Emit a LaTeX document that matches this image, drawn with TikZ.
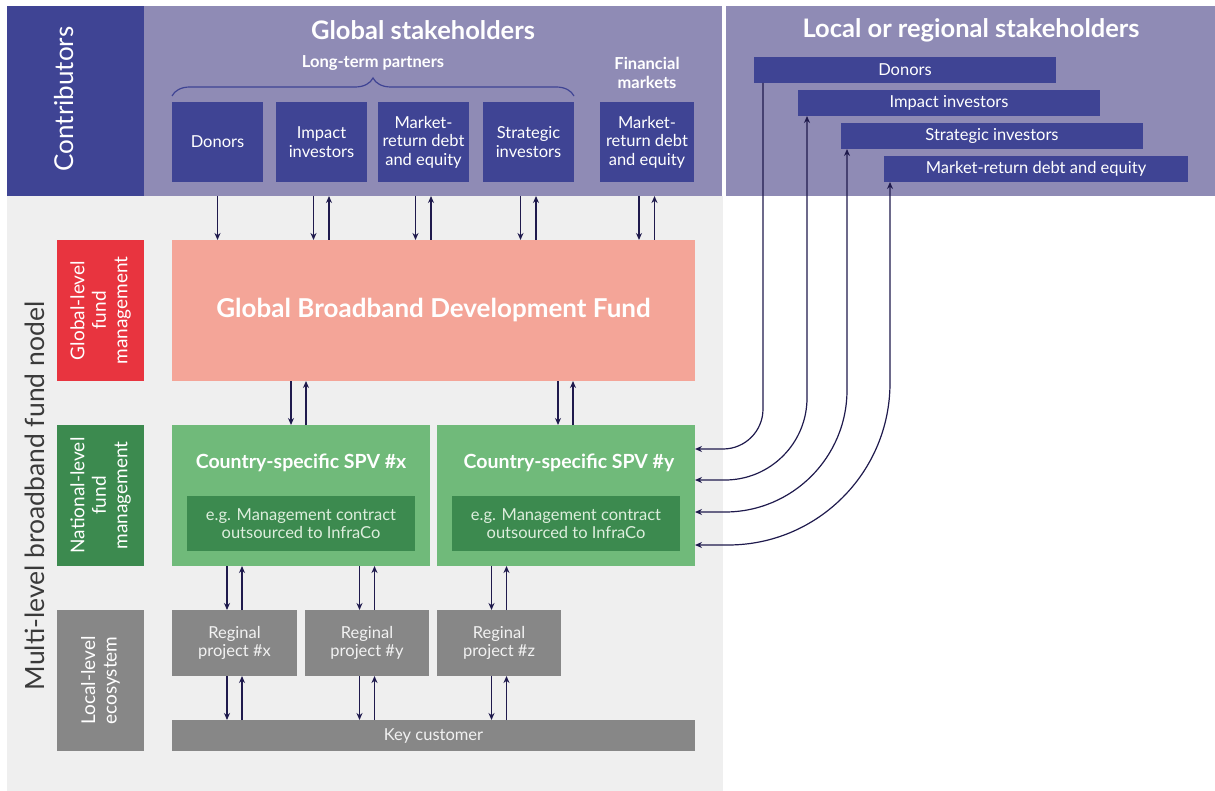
\documentclass[tikz,border=0pt]{standalone}
\usepackage{fontspec}
\setmainfont{Lato}
\usetikzlibrary{arrows.meta,decorations.pathreplacing,calc}

\definecolor{navyblue}{HTML}{3F4494}
\definecolor{lilac}{HTML}{8F8BB5}
\definecolor{paleg}{HTML}{EFEFEF}
\definecolor{fundred}{HTML}{E8343F}
\definecolor{salmon}{HTML}{F4A598}
\definecolor{lgreen}{HTML}{70BA7A}
\definecolor{dgreen}{HTML}{3C8A4F}
\definecolor{midgray}{HTML}{878787}
\definecolor{arrowcol}{HTML}{1F1A4D}
\definecolor{darktext}{HTML}{3A3A3A}
\definecolor{softgreen}{HTML}{DDEEDD}
\definecolor{softgray}{HTML}{F2F2F2}

\newcommand{\fsz}[2]{\fontsize{#1}{#2}\selectfont}

\tikzset{
  every node/.style={inner sep=0pt, outer sep=0pt},
  blk/.style={anchor=north west, align=center, text=white},
  sz/.style 2 args={minimum width=#1pt, minimum height=#2pt},
  txt/.style={font=\fsz{16.5}{18.5}},
  arr/.style={draw=arrowcol, line width=1.2pt, -{Stealth[length=7pt,width=6pt]}},
  both/.style={draw=arrowcol, line width=1.2pt, {Stealth[length=7pt,width=6pt]}-{Stealth[length=7pt,width=6pt]}},
}

\begin{document}
\begin{tikzpicture}[x=1pt,y=-1pt]
\useasboundingbox (0,0) rectangle (1215,791);

    % Background panels
    \node[blk, fill=paleg, sz={716}{595}] (base) at (7,196) {};
    \node[blk, fill=navyblue, sz={137}{190}] (contrib) at (7,6) {};
    \node[blk, fill=lilac, sz={578}{190}] (glob) at (144,6) {};
    \node[blk, fill=lilac, sz={489}{190}] (loc) at (726,6) {};
    \node[rotate=90, text=white, font=\fsz{26}{30}] (contribtxt) at (64,99) {Contributors};
    \node[rotate=90, text=darktext, font=\fsz{26.5}{30}] (multitxt) at (35,496) {Multi-level broadband fund nodel};

    % Global stakeholders
    \node[text=white, font=\fsz{25.5}{30}\bfseries] (globtitle) at (423,30) {Global stakeholders};
    \node[text=white, font=\fsz{16.5}{19}\bfseries] (ltp) at (373,63) {Long-term partners};
    \node[text=white, align=center, font=\fsz{16.5}{19}\bfseries] (finm) at (647,73) {Financial\\markets};
    \draw[navyblue, line width=1.2pt, decorate, decoration={brace, amplitude=18pt}] (172,96) -- (574,96);

    \node[blk, txt, fill=navyblue, sz={91}{80}] (gdon) at (172,102) {Donors};
    \node[blk, txt, fill=navyblue, sz={91}{80}] (gimp) at (276,102) {Impact\\investors};
    \node[blk, txt, fill=navyblue, sz={91}{80}] (gmkt) at (378,102) {Market-\\return debt\\and equity};
    \node[blk, txt, fill=navyblue, sz={91}{80}] (gstr) at (483,102) {Strategic\\investors};
    \node[blk, txt, fill=navyblue, sz={94}{80}] (gfin) at (600,102) {Market-\\return debt\\and equity};

    % Local or regional stakeholders
    \node[text=white, font=\fsz{25.5}{30}\bfseries] (loctitle) at (971,30) {Local or regional stakeholders};
    \node[blk, txt, fill=navyblue, sz={302}{26}] (ldon) at (754,57) {Donors};
    \node[blk, txt, fill=navyblue, sz={302}{26}] (limp) at (798,90) {Impact investors};
    \node[blk, txt, fill=navyblue, sz={302}{26}] (lstr) at (841,123) {Strategic investors};
    \node[blk, txt, fill=navyblue, sz={304}{26}] (lmkt) at (884,156) {Market-return debt and equity};

    % Level labels
    \node[blk, fill=fundred, sz={87}{141}] (glvl) at (57,240) {};
    \node[rotate=90, text=white, align=center, font=\fsz{19}{21.5}] at (glvl.center) {Global-level\\fund\\management};
    \node[blk, fill=dgreen, sz={87}{141}] (nlvl) at (57,425) {};
    \node[rotate=90, text=white, align=center, font=\fsz{19}{21.5}] at (nlvl.center) {National-level\\fund\\management};
    \node[blk, fill=midgray, sz={87}{141}] (llvl) at (57,610) {};
    \node[rotate=90, text=white, align=center, font=\fsz{19}{21.5}] at (llvl.center) {Local-level\\ecosystem};

    % Fund and SPVs
    \node[blk, fill=salmon, sz={523}{141}, font=\fsz{26}{30}\bfseries] (fund) at (172,240) {Global Broadband Development Fund};
    \node[blk, fill=lgreen, sz={258}{141}] (spvx) at (172,425) {};
    \node[blk, fill=lgreen, sz={258}{141}] (spvy) at (437,425) {};
    \node[text=white, font=\fsz{19.5}{23}\bfseries] (spvxtitle) at (301,463) {Country-specific SPV \#x};
    \node[text=white, font=\fsz{19.5}{23}\bfseries] (spvytitle) at (569,463) {Country-specific SPV \#y};
    \node[blk, txt, fill=dgreen, text=softgreen, sz={228}{55}] (spvxin) at (187,496) {e.g. Management contract\\outsourced to InfraCo};
    \node[blk, txt, fill=dgreen, text=softgreen, sz={228}{55}] (spvyin) at (452,496) {e.g. Management contract\\outsourced to InfraCo};

    % Regional projects
    \node[blk, txt, fill=midgray, text=softgray, sz={125}{66}] (prjx) at (172,610) {Reginal\\project \#x};
    \node[blk, txt, fill=midgray, text=softgray, sz={124}{66}] (prjy) at (305,610) {Reginal\\project \#y};
    \node[blk, txt, fill=midgray, text=softgray, sz={124}{66}] (prjz) at (437,610) {Reginal\\project \#z};
    \node[blk, txt, fill=midgray, text=softgray, sz={523}{31}] (cust) at (172,720) {Key customer};

    % Global stakeholders to fund
    \draw[arr] (gdon.south |- glob.south) -- (gdon.south |- fund.north);
    \foreach \g in {gimp,gmkt,gstr,gfin} {
      \draw[arr] ([xshift=-8pt]\g.south |- glob.south) -- ([xshift=-8pt]\g.south |- fund.north);
      \draw[arr] ([xshift=7.5pt]\g.south |- fund.north) -- ([xshift=7.5pt]\g.south |- glob.south);
    }

    % Fund to SPVs
    \foreach \s/\d in {spvx/-10,spvy/-8} {
      \draw[arr] ([xshift=\d pt]\s.north |- fund.south) -- ([xshift=\d pt]\s.north);
      \draw[arr] ([xshift=\d pt+15pt]\s.north) -- ([xshift=\d pt+15pt]\s.north |- fund.south);
    }

    % SPVs to projects, projects to key customer
    \foreach \s/\p in {spvx/prjx,spvx/prjy,spvy/prjz} {
      \draw[arr] ([xshift=-7.5pt]\p.north |- \s.south) -- ([xshift=-7.5pt]\p.north);
      \draw[arr] ([xshift=7.5pt]\p.north) -- ([xshift=7.5pt]\p.north |- \s.south);
      \draw[arr] ([xshift=-7.5pt]\p.south) -- ([xshift=-7.5pt]\p.south |- cust.north);
      \draw[arr] ([xshift=7.5pt]\p.south |- cust.north) -- ([xshift=7.5pt]\p.south);
    }

    % Local stakeholders to SPV #y
    \draw[arr, rounded corners=40pt] ([xshift=9pt]ldon.south west) |- ([yshift=46.5pt]spvy.east);
    \draw[both, rounded corners=82pt] ([xshift=9pt]limp.south west) |- ([yshift=15.5pt]spvy.east);
    \draw[both, rounded corners=122pt] ([xshift=6pt]lstr.south west) |- ([yshift=-16.5pt]spvy.east);
    \draw[both, rounded corners=162pt] ([xshift=6pt]lmkt.south west) |- ([yshift=-49.5pt]spvy.east);

\end{tikzpicture}
\end{document}
